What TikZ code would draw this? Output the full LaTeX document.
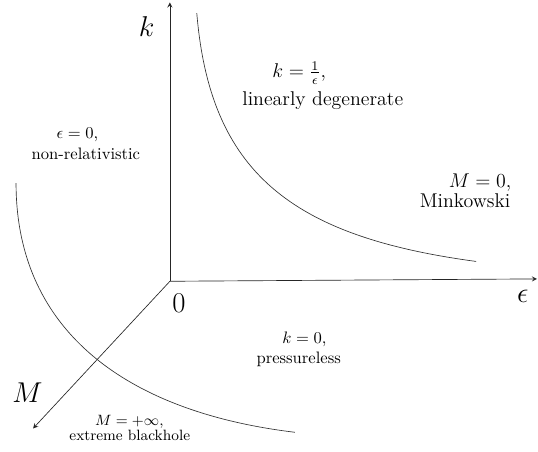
\documentclass[tikz,border=0pt]{standalone}
\usepackage{amsmath,amssymb}
\usepackage{tikz}
\usepackage{xcolor}

\begin{document}
\begin{tikzpicture}[
    axis/.style={black!85,-stealth},
    bigmath/.style={font=\fontsize{19}{23}\selectfont},
    regime/.style={anchor=base,inner sep=0pt}]
        \useasboundingbox (-3.60,-3.60) rectangle (7.80,5.96);
        \coordinate (O) at (0,0);
        \coordinate (ktip) at (0,5.91);
        \coordinate (etip) at (7.78,0.05);
        \coordinate (Mtip) at (-2.90,-3.12);
        \draw[axis] (O) -- (ktip);
        \draw[axis] (O) -- (etip);
        \draw[axis] (O) -- (Mtip);
        \node[bigmath] (klab) at (-0.49,5.40) {$k$};
        \node[bigmath] (elab) at (7.48,-0.32) {$\epsilon$};
        \node[bigmath] (olab) at (0.19,-0.47) {$0$};
        \node[bigmath] (mlab) at (-3.02,-2.36) {$M$};
        \draw[black!80] (0.57,5.68) .. controls (0.85,2.33) and (2.54,0.95) .. (6.49,0.42);
        \draw[black!80] (-3.26,2.08) .. controls (-3.26,-1.10) and (-0.85,-2.78) .. (2.65,-3.20);
        \node[regime] (epszero) at (-1.96,3.03) {$\epsilon=0$,};
        \node[regime] (nonrel) at (-1.78,2.58) {non-relativistic};
        \node[regime,font=\large] (kinv) at (2.74,4.31) {$k=\frac{1}{\epsilon}$,};
        \node[regime,font=\large] (lindeg) at (3.24,3.73) {linearly degenerate};
        \node[regime,anchor=base east,font=\large] (mzero) at (7.24,1.99) {$M=0$,};
        \node[regime,anchor=base east,font=\large] (mink) at (7.22,1.57) {Minkowski};
        \node[regime] (kzero) at (2.85,-1.31) {$k=0$,};
        \node[regime] (pless) at (2.73,-1.74) {pressureless};
        \node[regime,font=\small] (minf) at (-0.86,-3.05) {$M=+\infty$,};
        \node[regime,font=\small] (bhole) at (-0.85,-3.38) {extreme blackhole};
      \end{tikzpicture}
\end{document}
